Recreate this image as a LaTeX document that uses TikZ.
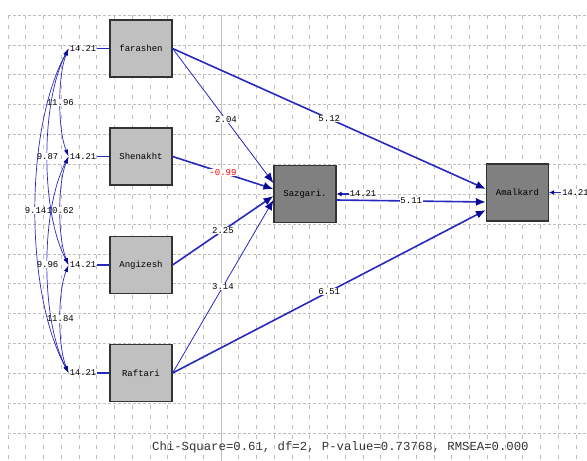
\documentclass[tikz,border=0pt]{standalone}
\usepackage{fontspec}
\setmonofont{Liberation Mono}
\usepackage{tikz}
\usetikzlibrary{arrows.meta}
\usetikzlibrary{positioning}
\definecolor{pathblue}{RGB}{40,40,190}
\definecolor{tipblue}{RGB}{10,10,150}
\definecolor{gridgray}{RGB}{190,190,190}
\definecolor{exogray}{RGB}{192,192,192}
\definecolor{endogray}{RGB}{128,128,128}
\tikzset{
    exobox/.style={draw=black!80, line width=1.2pt, fill=exogray,
        minimum width=62pt, minimum height=57pt, font=\ttfamily\fontsize{9}{10}\selectfont},
    endobox/.style={exobox, fill=endogray},
    errval/.style={font=\ttfamily\fontsize{8.8}{10}\selectfont, inner sep=1pt},
    coef/.style={fill=white, inner sep=0.5pt, font=\ttfamily\fontsize{9}{10}\selectfont},
    causal/.style={draw=pathblue, line width=1.6pt,
        -{Latex[length=10pt,width=8pt,color=tipblue]}},
    weakcausal/.style={causal, line width=0.8pt},
    covar/.style={draw=pathblue, line width=0.7pt,
        {Latex[length=7pt,width=4pt,color=tipblue]}-{Latex[length=7pt,width=4pt,color=tipblue]}},
    errline/.style={draw=pathblue, line width=1.3pt},
    errarrow/.style={errline, -{Latex[length=5pt,width=5pt,color=tipblue]}},
    gridline/.style={gridgray, line width=0.6pt},
}

\begin{document}
\begin{tikzpicture}[x=1pt, y=-1pt]
	\useasboundingbox (0,0) rectangle (587,461);
	% grid
	\foreach \i in {0,...,14}
		\draw[gridline, dash pattern=on 3pt off 2pt] (8,15+29.86*\i) -- (587,15+29.86*\i);
	\foreach \i in {0,...,32}
		\draw[gridline, dash pattern=on 4pt off 6pt] (8+17.75*\i,15) -- (8+17.75*\i,461);
	\draw[gridline] (221,15) -- (221,461);

	\node[exobox] (farashen) at (141,48.5) {farashen};
	\node[exobox] (shenakht) at (141,156.5) {Shenakht};
	\node[exobox] (angizesh) at (141,265) {Angizesh};
	\node[exobox] (raftari) at (141,373) {Raftari};
	\node[endobox] (sazgari) at (305,194) {Sazgari.};
	\node[endobox] (amalkard) at (517.5,192.5) {Amalkard};

	\node[errval, left=12pt of farashen] (efarashen) {14.21};
	\node[errval, left=12pt of shenakht] (eshenakht) {14.21};
	\node[errval, left=12pt of angizesh] (eangizesh) {14.21};
	\node[errval, left=12pt of raftari] (eraftari) {14.21};
	\node[errval, right=12pt of sazgari] (esazgari) {14.21};
	\node[errval, right=12pt of amalkard] (eamalkard) {14.21};
	\draw[errline] (efarashen) -- (farashen);
	\draw[errline] (eshenakht) -- (shenakht);
	\draw[errline] (eangizesh) -- (angizesh);
	\draw[errline] (eraftari) -- (raftari);
	\draw[errarrow] (esazgari) -- (sazgari);
	\draw[errarrow] (eamalkard) -- (amalkard);

	\draw[weakcausal] (farashen.east) -- node[coef, pos=.53] {2.04} ([yshift=11pt]sazgari.west);
	\draw[causal] (shenakht.east) -- node[coef, text=red] {-0.99} ([yshift=5pt]sazgari.west);
	\draw[causal] (angizesh.east) -- node[coef] {2.25} ([yshift=-2pt]sazgari.west);
	\draw[weakcausal] (raftari.east) -- node[coef] {3.14} ([yshift=-6pt]sazgari.west);
	\draw[causal] (farashen.east) -- node[coef] {5.12} ([yshift=3.5pt]amalkard.west);
	\draw[causal] (raftari.east) -- node[coef] {6.51} ([yshift=-17.5pt]amalkard.west);
	\draw[causal] ([yshift=-6pt]sazgari.east) -- node[coef] {5.11} ([yshift=-9.5pt]amalkard.west);

	% covariances
	\draw[covar] (efarashen.west) .. controls +(-11,27) and +(-11,-27) .. node[coef] {11.96} (eshenakht.west);
	\draw[covar] (eshenakht.west) .. controls +(-11,27) and +(-11,-27) .. node[coef] {10.62} (eangizesh.west);
	\draw[covar] (eangizesh.west) .. controls +(-11,27) and +(-11,-27) .. node[coef] {11.84} (eraftari.west);
	\draw[covar] (efarashen.west) .. controls +(-28,54) and +(-28,-54) .. node[coef] {9.87} (eangizesh.west);
	\draw[covar] (eshenakht.west) .. controls +(-28,54) and +(-28,-54) .. node[coef] {9.96} (eraftari.west);
	\draw[covar] (efarashen.west) .. controls +(-44,81) and +(-44,-81) .. node[coef] {9.14} (eraftari.west);

	\node[font=\ttfamily\fontsize{12.3}{14}\selectfont, text=black!80, anchor=west, inner sep=0pt] (fitline) at (152,447) {Chi-Square=0.61, df=2, P-value=0.73768, RMSEA=0.000};
\end{tikzpicture}
\end{document}
